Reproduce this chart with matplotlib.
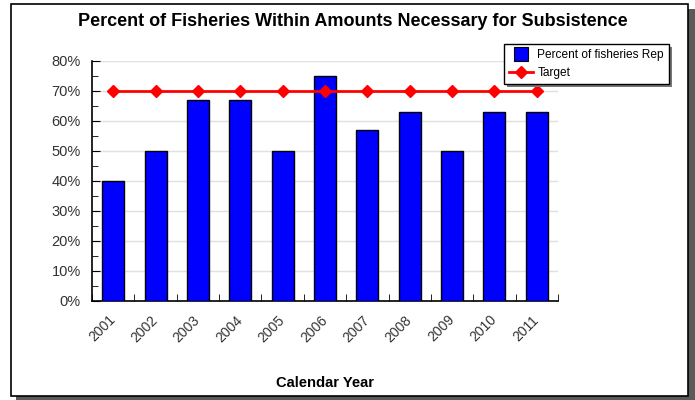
#!/usr/bin/env python3

import numpy as np
import matplotlib
matplotlib.use("Agg")
import matplotlib.pyplot as plt
from matplotlib.patches import Rectangle
from matplotlib.lines import Line2D
from matplotlib.ticker import MultipleLocator, FuncFormatter

YEARS = ["2001", "2002", "2003", "2004", "2005", "2006",
         "2007", "2008", "2009", "2010", "2011"]
PERCENT_REP = [40, 50, 67, 67, 50, 75, 57, 63, 50, 63, 63]
TARGET = [70, 70, 70, 70, 70, 70, 70, 70, 70, 70, 70]

plt.rcParams['font.family'] = ['Liberation Sans', 'DejaVu Sans']

W, H = 695, 400
fig = plt.figure(figsize=(W / 100, H / 100), dpi=100)


def fx(px):
    return px / W


def fy(py):
    return 1 - py / H


# background axes for the frame with drop shadow
bg = fig.add_axes([0, 0, 1, 1], zorder=0)
bg.set_axis_off()
bg.set_xlim(0, W)
bg.set_ylim(H, 0)
bg.add_patch(Rectangle((16, 9), 679, 391, facecolor="#5a5a5a", edgecolor="none"))
bg.add_patch(Rectangle((11, 4), 677, 392, facecolor="white", edgecolor="black", linewidth=1.2))

ax = fig.add_axes([fx(92), fy(301), fx(558 - 92), (301 - 61) / H], zorder=2)
ax.set_facecolor("none")

x = np.arange(len(YEARS))
ax.bar(x, PERCENT_REP, width=0.52, color="#0000ff", edgecolor="black", linewidth=1,
       label="Percent of fisheries Rep", zorder=3)
ax.plot(x, TARGET, color="#ff0000", linewidth=2, marker="D", markersize=6,
        label="Target", zorder=4)

ax.set_xlim(-0.5, len(YEARS) - 0.5)
ax.set_ylim(0, 80)
ax.yaxis.set_major_locator(MultipleLocator(10))
ax.yaxis.set_minor_locator(MultipleLocator(5))
ax.yaxis.set_major_formatter(FuncFormatter(lambda v, p: "%d%%" % v))
ax.grid(axis="y", color="#e0e0e0", linewidth=1, zorder=0)

ax.set_xticks(x)
ax.set_xticklabels(YEARS, rotation=45, ha="right", va="center", rotation_mode="anchor",
                   fontsize=10, color="#333333")
ax.set_xticks(np.arange(len(YEARS) + 1) - 0.5, minor=True)
ax.tick_params(axis="x", which="major", length=0, pad=12)
ax.tick_params(axis="x", which="minor", direction="in", length=5, color="black")
ax.tick_params(axis="y", which="major", direction="in", length=6, labelsize=10.5,
               labelcolor="#333333", pad=8)
ax.tick_params(axis="y", which="minor", direction="in", length=4)

for s in ["top", "right"]:
    ax.spines[s].set_visible(False)
for s in ["left", "bottom"]:
    ax.spines[s].set_linewidth(1.2)

fig.text(fx(353), fy(22), "Percent of Fisheries Within Amounts Necessary for Subsistence",
         ha="center", va="center", fontsize=13, fontweight="bold", zorder=3)
fig.text(fx(325), fy(383), "Calendar Year", ha="center", va="center",
         fontsize=10.6, fontweight="bold", zorder=3)

handles = [
    Line2D([], [], linestyle="none", marker="s", markersize=9.5, markerfacecolor="#0000ff",
           markeredgecolor="black", markeredgewidth=0.8),
    Line2D([], [], color="#ff0000", linewidth=2, marker="D", markersize=6),
]
leg = ax.legend(handles, ["Percent of fisheries Rep", "Target"], loc="upper left",
                bbox_to_anchor=(fx(504), fy(44)), bbox_transform=fig.transFigure,
                fontsize=8.6, frameon=True, fancybox=False, framealpha=1,
                borderpad=0.45, borderaxespad=0, handlelength=2.0, labelspacing=0.45,
                handletextpad=0.35,
                shadow={"facecolor": "#777777", "edgecolor": "none", "alpha": 1})
leg.get_frame().set_edgecolor("black")
leg.get_frame().set_linewidth(1)
leg.set_zorder(6)

fig.savefig("out.png", dpi=100)
